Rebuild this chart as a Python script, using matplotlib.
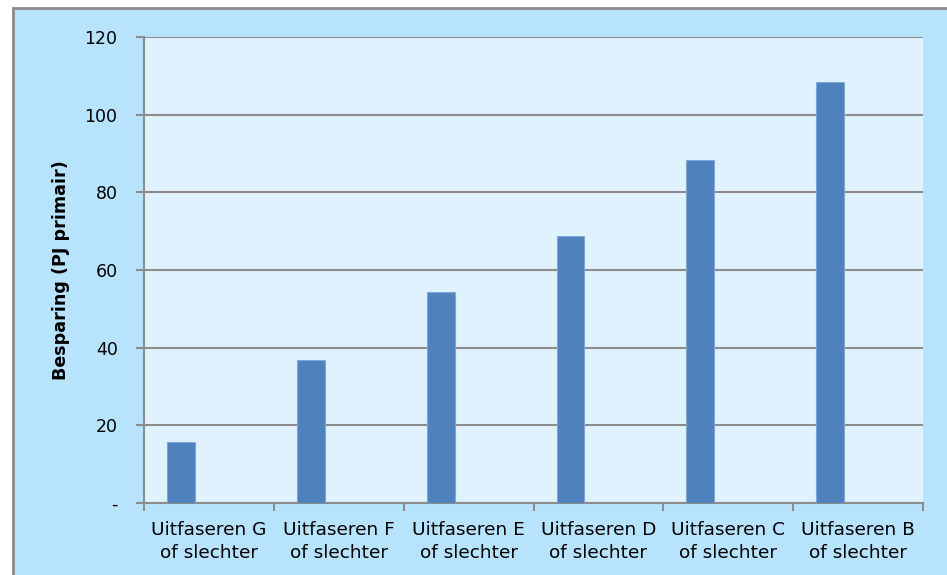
import numpy as np
import matplotlib.pyplot as plt
from matplotlib.patches import Rectangle

CATEGORIES = ["Uitfaseren G\nof slechter", "Uitfaseren F\nof slechter", "Uitfaseren E\nof slechter",
              "Uitfaseren D\nof slechter", "Uitfaseren C\nof slechter", "Uitfaseren B\nof slechter"]
BESPARING = [15.6, 36.7, 54.4, 68.7, 88.3, 108.4]
Y_TICKS = [0, 20, 40, 60, 80, 100, 120]
Y_TICK_LABELS = ["-", "20", "40", "60", "80", "100", "120"]

OUTER_BG = "#B8E3FD"
PLOT_BG = "#E0F2FE"
BAR_COLOR = "#4F81BD"
GRID_COLOR = "#8C8C8C"


def main():
    fig = plt.figure(figsize=(9.47, 5.75), dpi=100, facecolor="white")
    # chart area background with grey border
    fig.patches.append(Rectangle((13 / 947, -0.05), 1.0, (575 - 7.5) / 575 + 0.05,
                                 transform=fig.transFigure, facecolor=OUTER_BG,
                                 edgecolor="#8A8A8A", linewidth=2, zorder=-10))

    ax = fig.add_axes([144 / 947, 72 / 575, 779 / 947, 466 / 575])
    ax.set_facecolor(PLOT_BG)

    x = np.arange(len(CATEGORIES))
    ax.bar(x + 0.285, BESPARING, width=0.215, color=BAR_COLOR,
           edgecolor="#7FA7D8", linewidth=0.8, zorder=3)

    ax.set_xlim(0, len(CATEGORIES))
    ax.set_ylim(0, 120)
    ax.set_yticks(Y_TICKS)
    ax.set_yticklabels(Y_TICK_LABELS, fontsize=12.5)
    ax.set_xticks(np.arange(len(CATEGORIES) + 1))
    ax.set_xticklabels([])
    ax.set_xticks(x + 0.5, minor=True)
    ax.set_xticklabels(CATEGORIES, minor=True, fontsize=13.3, linespacing=1.38)
    ax.tick_params(axis="x", which="minor", length=0, pad=13)
    ax.tick_params(axis="x", which="major", length=6, width=1.5, color=GRID_COLOR)
    ax.tick_params(axis="y", length=6, width=1.5, color=GRID_COLOR, pad=13)

    ax.grid(axis="y", color=GRID_COLOR, linewidth=1.5, zorder=1)
    ax.set_axisbelow(True)
    for side in ["top", "right"]:
        ax.spines[side].set_visible(False)
    for side in ["left", "bottom"]:
        ax.spines[side].set_color(GRID_COLOR)
        ax.spines[side].set_linewidth(1.5)

    ax.set_ylabel("Besparing (PJ primair)", fontsize=12.6, fontweight="bold")
    ax.yaxis.set_label_coords(-0.095, 0.5)

    fig.savefig("out.png", dpi=100, facecolor=fig.get_facecolor())


if __name__ == '__main__':
    main()
